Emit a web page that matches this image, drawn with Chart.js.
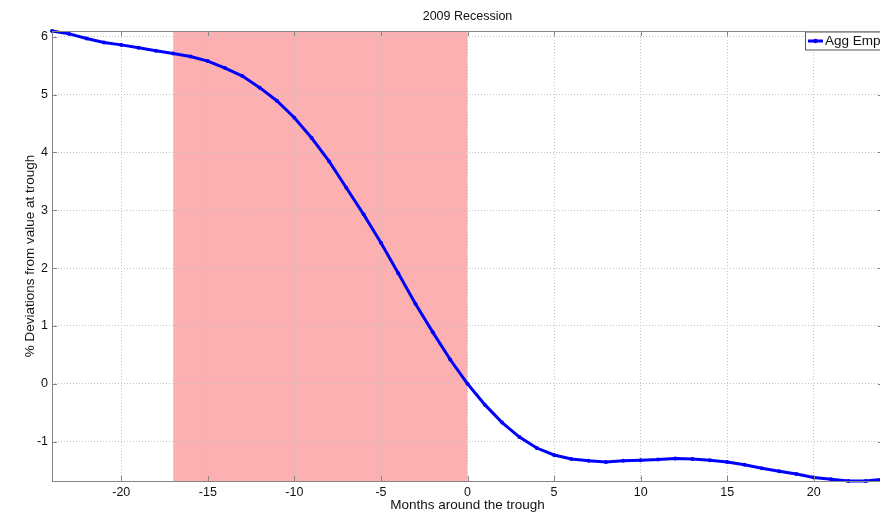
<!DOCTYPE html>
<html>
<head>
<meta charset="utf-8">
<script src="https://cdn.jsdelivr.net/npm/chart.js@4/dist/chart.umd.min.js"></script>
<style>
  html, body { margin: 0; padding: 0; background: #fff; overflow: hidden; width: 880px; height: 515px; }
  #wrap { width: 887px; height: 515px; }
  #recChart { display: block; width: 887px; height: 515px; }
</style>
</head>
<body>
<div id="wrap"><canvas id="recChart" width="887" height="515"></canvas></div>
<script>
// данные графика
const months = [-24, -23, -22, -21, -20, -19, -18, -17, -16, -15, -14, -13, -12, -11, -10, -9, -8, -7, -6, -5, -4, -3, -2, -1,
                0, 1, 2, 3, 4, 5, 6, 7, 8, 9, 10, 11, 12, 13, 14, 15, 16, 17, 18, 19, 20, 21, 22, 23, 24];
const aggEmp = [6.10, 6.05, 5.97, 5.90, 5.86, 5.81, 5.76, 5.71, 5.66, 5.58, 5.46, 5.32, 5.12, 4.89, 4.60, 4.25, 3.85, 3.39,
                2.93, 2.44, 1.91, 1.38, 0.89, 0.42, 0.00, -0.36, -0.67, -0.92, -1.11, -1.23, -1.30, -1.33, -1.35, -1.33,
                -1.32, -1.31, -1.29, -1.30, -1.32, -1.35, -1.40, -1.46, -1.51, -1.56, -1.62, -1.65, -1.68, -1.68, -1.65];
const recession = [-17, 0];   // затенённый период
const xRange = [-24, 24];
const yRange = [-1.68, 6.1];
const chartTitle = '2009 Recession';

const FONT = '"Liberation Sans", Arial, sans-serif';
const AXIS_GREY = '#858585';

// фон рецессии + рамка, засечки, заголовок, легенда
const matlabLook = {
    id: 'matlabLook',
    beforeDraw(chart) {
        const { ctx, chartArea: a, scales: { x } } = chart;
        const x0 = x.getPixelForValue(recession[0]);
        const x1 = x.getPixelForValue(recession[1]);
        ctx.save();
        ctx.fillStyle = 'rgb(253, 176, 177)';
        ctx.fillRect(x0, a.top, x1 - x0, a.bottom - a.top);
        ctx.restore();
    },
    afterDraw(chart) {
        const { ctx, chartArea: a, scales: { x, y } } = chart;
        ctx.save();
        // рамка
        ctx.strokeStyle = AXIS_GREY;
        ctx.lineWidth = 1;
        ctx.strokeRect(a.left + 0.5, a.top + 0.5, a.right - a.left, a.bottom - a.top);
        // засечки внутрь
        ctx.beginPath();
        x.ticks.forEach(t => {
            const px = Math.round(x.getPixelForValue(t.value)) + 0.5;
            ctx.moveTo(px, a.bottom); ctx.lineTo(px, a.bottom - 5);
            ctx.moveTo(px, a.top); ctx.lineTo(px, a.top + 5);
        });
        y.ticks.forEach(t => {
            const py = Math.round(y.getPixelForValue(t.value)) + 0.5;
            ctx.moveTo(a.left, py); ctx.lineTo(a.left + 5, py);
            ctx.moveTo(a.right, py); ctx.lineTo(a.right - 5, py);
        });
        ctx.stroke();

        // заголовок по центру области графика
        ctx.fillStyle = '#111';
        ctx.font = '12.5px ' + FONT;
        ctx.textAlign = 'center';
        ctx.textBaseline = 'middle';
        ctx.fillText(chartTitle, (a.left + a.right) / 2, 17);

        // легенда
        const ds = chart.data.datasets[0];
        const lx = 805, ly = 31.5;
        ctx.fillStyle = '#fff';
        ctx.fillRect(lx, ly, 90, 18);
        ctx.strokeStyle = '#555';
        ctx.strokeRect(lx + 0.5, ly + 0.5, 90, 18);
        ctx.strokeStyle = ds.borderColor;
        ctx.lineWidth = 3;
        ctx.beginPath();
        ctx.moveTo(lx + 3, ly + 9.5); ctx.lineTo(lx + 18, ly + 9.5);
        ctx.stroke();
        ctx.fillStyle = ds.borderColor;
        ctx.beginPath();
        ctx.arc(lx + 10.5, ly + 9.5, 2.2, 0, Math.PI * 2);
        ctx.fill();
        ctx.fillStyle = '#111';
        ctx.font = '13.5px ' + FONT;
        ctx.textAlign = 'left';
        ctx.fillText(ds.label, lx + 20, ly + 10);
        ctx.restore();
    }
};

const ctx = document.getElementById('recChart').getContext('2d');
new Chart(ctx, {
    type: 'line',
    data: {
        datasets: [{
            label: 'Agg Emp',
            data: months.map((m, i) => ({ x: m, y: aggEmp[i] })),
            borderColor: '#0000ff',
            backgroundColor: '#0000ff',
            borderWidth: 3,
            pointRadius: 2,
            pointBorderWidth: 0,
            pointBackgroundColor: '#0000ff',
            tension: 0,
            clip: 4
        }]
    },
    options: {
        responsive: false,
        animation: false,
        layout: { padding: { top: 31, right: 0, bottom: 0, left: 0 } },
        plugins: { legend: { display: false }, tooltip: { enabled: false }, title: { display: false } },
        scales: {
            x: {
                type: 'linear',
                min: xRange[0], max: xRange[1],
                afterFit(s) { s.height = 34; },
                grid: { color: '#c2c2c2', drawTicks: false },
                border: { display: false, dash: [1, 2] },
                ticks: { stepSize: 5, includeBounds: false, padding: 4, color: '#111', font: { family: FONT, size: 12.5 } },
                title: { display: true, text: 'Months around the trough', color: '#111', padding: { top: 0, bottom: 2 },
                         font: { family: FONT, size: 13.5 } }
            },
            y: {
                min: yRange[0], max: yRange[1],
                afterFit(s) { s.width = 52; },
                grid: { color: '#c2c2c2', drawTicks: false },
                border: { display: false, dash: [1, 2] },
                ticks: { stepSize: 1, includeBounds: false, padding: 4, color: '#111', font: { family: FONT, size: 12.5 } },
                title: { display: true, text: '% Deviations from value at trough', color: '#111', padding: { top: 22, bottom: 0 },
                         font: { family: FONT, size: 13.5 } }
            }
        }
    },
    plugins: [matlabLook]
});
</script>
</body>
</html>
